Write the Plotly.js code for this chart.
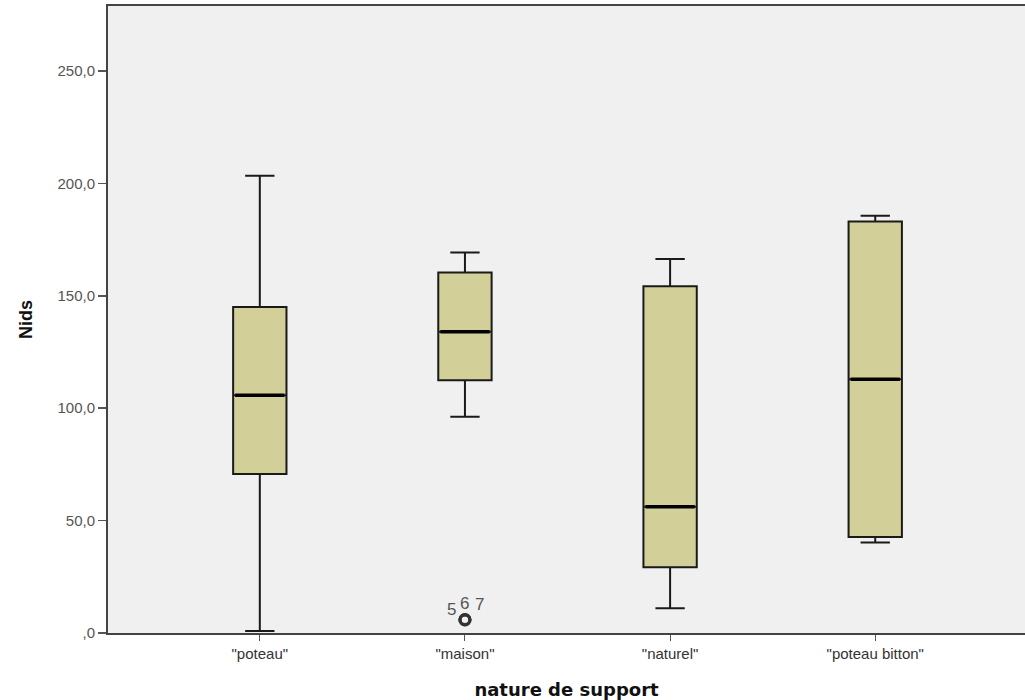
<!DOCTYPE html>
<html>
<head>
<meta charset="utf-8">
<script src="https://cdn.plot.ly/plotly-3.0.1.min.js"></script>
<style>html,body{margin:0;padding:0;background:#fff;}#chart{width:1025px;height:700px;}</style>
</head>
<body>
<div id="chart"></div>
<script>
const categories = ['"poteau"', '"maison"', '"naturel"', '"poteau bitton"'];
const lowerFence = [0.9, 96.2, 11.0, 40.3];
const q1 = [70.7, 112.4, 29.2, 42.7];
const median = [105.7, 134.0, 56.2, 112.9];
const q3 = [145.0, 160.4, 154.2, 183.0];
const upperFence = [203.4, 169.3, 166.4, 185.6];
const outlierCategory = [1, 1, 1];
const outlierValues = [5.8, 5.9, 6.0];
const outlierLabels = ['5', '6', '7'];
const yTickVals = [0, 50, 100, 150, 200, 250];
const yTickText = [',0', '50,0', '100,0', '150,0', '200,0', '250,0'];

const xIdx = categories.map((c, i) => i);
const boxW = 0.26;

const traces = [{
  type: 'box',
  x: xIdx,
  q1: q1, median: median, q3: q3,
  lowerfence: lowerFence, upperfence: upperFence,
  width: boxW,
  whiskerwidth: 0.55,
  fillcolor: '#d3cf98',
  line: {color: '#1a1a1a', width: 2},
  boxpoints: false,
  hoverinfo: 'skip',
  showlegend: false
}];

// thicker median lines
const mx = [], my = [];
median.forEach((m, i) => { mx.push(i - boxW / 2 + 0.01, i + boxW / 2 - 0.01, null); my.push(m, m, null); });
traces.push({type: 'scatter', mode: 'lines', x: mx, y: my, line: {color: '#000', width: 3.5}, showlegend: false, hoverinfo: 'skip'});

// outliers
traces.push({
  type: 'scatter', mode: 'markers',
  x: outlierCategory, y: outlierValues,
  marker: {symbol: 'circle-open', size: 10, color: '#333', line: {width: 3, color: '#333'}},
  showlegend: false, hoverinfo: 'skip'
});

const labelDx = [-0.068, 0, 0.07];
const labelDy = [4.7, 7.4, 6.6];
const annotations = outlierLabels.map((t, i) => ({
  x: outlierCategory[i] + labelDx[i], y: outlierValues[i] + labelDy[i],
  text: t, showarrow: false, xref: 'x', yref: 'y',
  font: {family: 'Liberation Sans, Arial', size: 17, color: '#555'}
}));

const layout = {
  width: 1025, height: 700,
  margin: {l: 108, r: 0, t: 6, b: 67},
  paper_bgcolor: '#ffffff',
  plot_bgcolor: '#f0f0f0',
  font: {family: 'Liberation Sans, Arial, sans-serif', size: 15, color: '#333'},
  xaxis: {
    range: [-0.74, 3.73],
    tickvals: xIdx, ticktext: categories,
    showgrid: false, zeroline: false,
    showline: true, linecolor: '#444', linewidth: 2, mirror: true,
    ticks: 'outside', ticklen: 6, tickcolor: '#555', tickwidth: 1,
    tickfont: {size: 15, color: '#333'},
    title: {text: '<b>nature de support</b>', font: {family: 'DejaVu Sans, sans-serif', size: 18, color: '#111'}, standoff: 22}
  },
  yaxis: {
    range: [0, 278.9],
    tickvals: yTickVals, ticktext: yTickText,
    showgrid: false, zeroline: false,
    showline: true, linecolor: '#444', linewidth: 2,
    ticks: 'outside', ticklen: 8, tickcolor: '#555', tickwidth: 1.5,
    tickfont: {size: 15, color: '#555'},
    title: {text: '<b>Nids</b>', font: {family: 'Liberation Sans, Arial', size: 18, color: '#111'}, standoff: 20}
  },
  annotations: annotations
};

Plotly.newPlot('chart', traces, layout, {displayModeBar: false, staticPlot: true});
</script>
</body>
</html>
